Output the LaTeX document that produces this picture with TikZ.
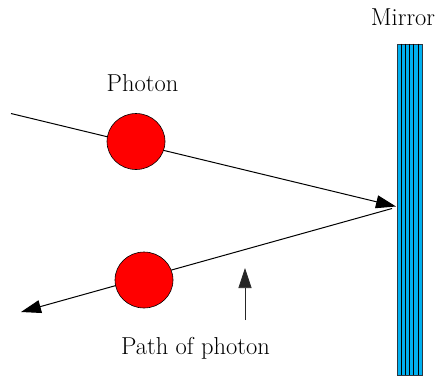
\documentclass[tikz,border=0pt]{standalone}
\usepackage{fontspec}
\usetikzlibrary{positioning, arrows.meta, shapes.geometric, calc}

\definecolor{mirrorblue}{RGB}{0,176,240}
\definecolor{mirroredge}{RGB}{45,55,65}

\begin{document}
\begin{tikzpicture}[
    x=1pt, y=-1pt,
    font=\fontsize{24.5}{29}\selectfont,
    every node/.style={align=center},
    %% photon: red ball travelling along the path
    photon/.style={
        ellipse, draw=black, line width=0.6pt, fill=red,
        minimum width=58pt, minimum height=56pt, inner sep=0pt
    },
    %% the mirror plate
    mirror/.style={
        draw=mirroredge, fill=mirrorblue, line width=0.9pt,
        minimum width=25.4pt, minimum height=331pt, inner sep=0pt
    },
    %% plain caption
    caption/.style={inner sep=0pt},
    %% light path
    ray/.style={-{Triangle[length=20pt, width=13pt]}, line width=1pt},
    %% pointer to the path
    pointer/.style={-{Triangle[length=20pt, width=13pt]}, line width=0.7pt, draw=black!85}
]
\useasboundingbox (0,0) rectangle (441,378);

%%-------------------------------------------------------------- nodes
\node[mirror]   (mirror)  at (410,209.5) {};

% stripes on the mirror
\foreach \i in {1,...,5}
    \draw[line width=1pt] ($(mirror.north west)+(\i*4.23,0)$) -- ($(mirror.south west)+(\i*4.23,0)$);

\node[caption]  (mirrorlab) at (403,17.5)   {Mirror};
\node[caption]  (photonlab) at (142.5,83)   {Photon};
\node[caption]  (pathlab)   at (195.5,348.5) {Path of photon};

%%-------------------------------------------------------------- edges
\coordinate (src)    at (11,113.5);
\coordinate (hit)    at (396,206.5);
\coordinate (bounce) at (392,208.5);
\coordinate (dst)    at (21,312);
\coordinate (ptrend) at (245,320);
\coordinate (ptrtip) at (245,268);

% incoming ray hits the mirror
\draw[ray] (src) -- (hit);

% reflected ray goes back out to the left
\draw[ray] (bounce) -- (dst);

% arrow pointing at the reflected path
\draw[pointer] (ptrend) -- (ptrtip);

%%-------------------------------------------------------------- photons
\node[photon] (photonin)  at (136,141.5) {};
\node[photon] (photonout) at (144,280)   {};

\end{tikzpicture}
\end{document}
